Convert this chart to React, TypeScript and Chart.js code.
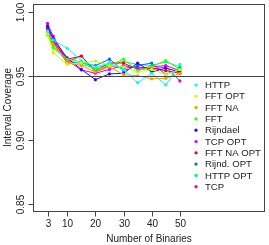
import React, { useEffect, useRef } from "react";
import { Chart, registerables } from "chart.js";

Chart.register(...registerables);

const binaries = [3, 5, 10, 15, 20, 25, 30, 35, 40, 45, 50];
const seriesNames = ["HTTP", "FFT OPT", "FFT NA", "FFT", "Rijndael", "TCP OPT", "FFT NA OPT", "Rijnd. OPT", "HTTP OPT", "TCP"];
const seriesColors = ["#00FFFF", "#CCFF00", "#FF9900", "#33FF00", "#3300FF", "#CC00FF", "#FF0000", "#0066FF", "#00FF66", "#FF0099"];

const http = [0.985, 0.978, 0.9715, 0.962, 0.957, 0.960, 0.955, 0.9446, 0.952, 0.943, 0.959];
const fftOpt = [0.983, 0.968, 0.959, 0.960, 0.9615, 0.958, 0.957, 0.953, 0.955, 0.951, 0.955];
const fftNa = [0.984, 0.975, 0.961, 0.958, 0.953, 0.957, 0.951, 0.950, 0.9477, 0.948, 0.952];
const fft = [0.982, 0.972, 0.963, 0.961, 0.955, 0.958, 0.963, 0.954, 0.957, 0.962, 0.955];
const rijndael = [0.989, 0.979, 0.964, 0.955, 0.947, 0.9515, 0.952, 0.960, 0.953, 0.956, 0.953];
const tcpOpt = [0.991, 0.981, 0.962, 0.9546, 0.952, 0.955, 0.958, 0.956, 0.957, 0.958, 0.954];
const fftNaOpt = [0.987, 0.977, 0.963, 0.9655, 0.954, 0.960, 0.960, 0.955, 0.956, 0.954, 0.952];
const rijndOpt = [0.986, 0.976, 0.960, 0.960, 0.958, 0.963, 0.954, 0.958, 0.960, 0.951, 0.956];
const httpOpt = [0.985, 0.973, 0.962, 0.959, 0.956, 0.959, 0.961, 0.959, 0.958, 0.961, 0.957];
const tcp = [0.988, 0.978, 0.961, 0.9655, 0.953, 0.958, 0.956, 0.957, 0.955, 0.957, 0.946];

const seriesValues = [http, fftOpt, fftNa, fft, rijndael, tcpOpt, fftNaOpt, rijndOpt, httpOpt, tcp];

const xTicks = [3, 10, 20, 30, 40, 50];
const yTicks = [0.85, 0.9, 0.95, 1.0];
const refLine = 0.95;
const xTitle = "Number of Binaries";
const yTitle = "Interval Coverage";

const FONT = "10px 'Liberation Sans', Arial, sans-serif";
const LEGEND_FONT = "9.6px 'Liberation Sans', Arial, sans-serif";

const axesPlugin = {
  id: "rAxes",
  afterDraw(chart: any) {
    const ctx = chart.ctx as CanvasRenderingContext2D;
    const { left, right, top, bottom } = chart.chartArea;
    const xs = chart.scales.x;
    const ys = chart.scales.y;
    ctx.save();
    ctx.strokeStyle = "#444";
    ctx.lineWidth = 1;
    // reference line
    const yr = Math.round(ys.getPixelForValue(refLine)) + 0.5;
    ctx.beginPath();
    ctx.moveTo(left, yr);
    ctx.lineTo(right, yr);
    ctx.stroke();
    // box
    ctx.strokeRect(Math.round(left) + 0.5, Math.round(top) + 0.5, Math.round(right - left) - 1, Math.round(bottom - top));
    // x ticks
    ctx.fillStyle = "#222";
    ctx.font = FONT;
    ctx.textAlign = "center";
    ctx.textBaseline = "middle";
    const bx = Math.round(bottom) + 0.5;
    for (const t of xTicks) {
      const px = Math.round(xs.getPixelForValue(t)) + 0.5;
      ctx.beginPath();
      ctx.moveTo(px, bx);
      ctx.lineTo(px, bx + 5);
      ctx.stroke();
      ctx.fillText(String(t), px, bottom + 13);
    }
    // y ticks
    const lx = Math.round(left) + 0.5;
    for (const t of yTicks) {
      const py = Math.round(ys.getPixelForValue(t)) + 0.5;
      ctx.beginPath();
      ctx.moveTo(lx, py);
      ctx.lineTo(lx - 5, py);
      ctx.stroke();
      ctx.save();
      ctx.translate(left - 12, py);
      ctx.rotate(-Math.PI / 2);
      ctx.fillText(t.toFixed(2), 0, 0);
      ctx.restore();
    }
    // titles
    ctx.fillText(xTitle, (left + right) / 2, bottom + 28);
    ctx.save();
    ctx.translate(8, (top + bottom) / 2);
    ctx.rotate(-Math.PI / 2);
    ctx.fillText(yTitle, 0, 0);
    ctx.restore();
    // legend
    ctx.font = LEGEND_FONT;
    ctx.textAlign = "left";
    for (let i = 0; i < seriesNames.length; i++) {
      const ly = 85 + i * 11.3;
      ctx.fillStyle = seriesColors[i];
      ctx.beginPath();
      ctx.arc(196, ly, 1.6, 0, Math.PI * 2);
      ctx.fill();
      ctx.fillStyle = "#222";
      ctx.fillText(seriesNames[i], 205, ly + 0.5);
    }
    ctx.restore();
  },
};

export default function App() {
  const ref = useRef<HTMLCanvasElement>(null);
  useEffect(() => {
    document.body.style.margin = "0";
    const chart = new Chart(ref.current!, {
      type: "line",
      data: {
        datasets: seriesNames.map((name, i) => ({
          label: name,
          data: binaries.map((b, j) => ({ x: b, y: seriesValues[i][j] })),
          borderColor: seriesColors[i],
          backgroundColor: seriesColors[i],
          borderWidth: 1,
          pointRadius: 1.6,
          pointBorderWidth: 0,
          tension: 0,
        })),
      },
      options: {
        animation: false,
        responsive: false,
        layout: { padding: { left: 33, right: 1, top: 1, bottom: 34 } },
        plugins: { legend: { display: false }, tooltip: { enabled: false } },
        scales: {
          x: { type: "linear", min: -2.16, max: 80.27, display: false },
          y: { type: "linear", min: 0.8442, max: 1.0062, display: false },
        },
      },
      plugins: [axesPlugin],
    });
    return () => chart.destroy();
  }, []);
  return (
    <div style={{ width: 269, height: 245 }}>
      <canvas ref={ref} width={269} height={245} />
    </div>
  );
}
